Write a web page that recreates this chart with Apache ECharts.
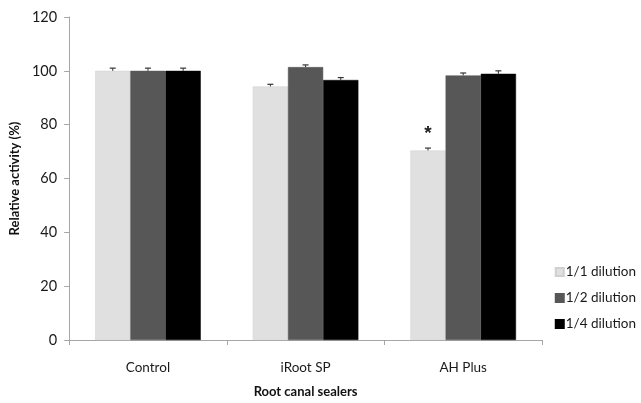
<!DOCTYPE html>
<html>
<head>
<meta charset="utf-8">
<script src="https://cdn.jsdelivr.net/npm/echarts@6/dist/echarts.min.js"></script>
<style>
  html, body { margin: 0; padding: 0; background: #fff; }
  #chart { width: 641px; height: 403px; }
</style>
</head>
<body>
<div id="chart"></div>
<script>
// categories and tick labels
const categories = ['Control', 'iRoot SP', 'AH Plus'];
const seriesNames = ['1/1 dilution', '1/2 dilution', '1/4 dilution'];
const seriesColors = ['#e0e0e0', '#575757', '#000000'];

// values (relative activity %)
const dilution11 = [100, 94.2, 70.4];
const dilution12 = [100, 101.4, 98.3];
const dilution14 = [100, 96.6, 98.9];

// error bars (upper part only is visible)
const err11 = [1.0, 0.8, 0.9];
const err12 = [1.0, 0.8, 0.9];
const err14 = [1.0, 0.9, 1.1];

// significance marks: [categoryIndex, seriesIndex, text]
const marks = [[2, 0, '*']];

const values = [dilution11, dilution12, dilution14];
const errors = [err11, err12, err14];

const CAT_GAP = 0.33;

const chart = echarts.init(document.getElementById('chart'));

// error bar data: [cat, value, err, seriesIndex]
const errData = [];
values.forEach((vals, s) => {
  vals.forEach((v, c) => errData.push([c, v, errors[s][c], s]));
});

const markData = marks.map(m => [m[0], values[m[1]][m[0]] + errors[m[1]][m[0]], m[1], m[2]]);

function barOffset(api, s) {
  const catW = api.size([1, 0])[0];
  const barW = catW * (1 - CAT_GAP) / 3;
  return { off: (s - 1) * barW, barW: barW };
}

const option = {
  animation: false,
  textStyle: { fontFamily: 'Lato, "Open Sans", sans-serif' },
  grid: { left: 68, right: 99, top: 17, bottom: 53 },
  legend: {
    orient: 'vertical',
    right: 0,
    top: 260,
    itemWidth: 8,
    itemHeight: 8,
    itemGap: 12,
    icon: 'rect',
    data: seriesNames,
    textStyle: { fontSize: 13.5, color: '#1a1a1a', padding: [0, 0, 0, -3] }
  },
  xAxis: {
    type: 'category',
    data: categories,
    name: 'Root canal sealers',
    nameLocation: 'middle',
    nameGap: 45,
    nameTextStyle: { fontSize: 13, fontWeight: 'bold', color: '#111' },
    axisLine: { lineStyle: { color: '#a6a6a6', width: 1 } },
    axisTick: { show: true, length: 5, lineStyle: { color: '#a6a6a6' } },
    axisLabel: { fontSize: 13.5, color: '#1a1a1a', margin: 21 }
  },
  yAxis: {
    type: 'value',
    min: 0,
    max: 120,
    interval: 20,
    name: 'Relative activity (%)',
    nameLocation: 'middle',
    nameGap: 45,
    nameTextStyle: { fontSize: 13, fontWeight: 'bold', color: '#111' },
    axisLine: { show: true, lineStyle: { color: '#a6a6a6', width: 1 } },
    axisTick: { show: true, length: 5, lineStyle: { color: '#a6a6a6' } },
    axisLabel: { fontSize: 14.5, color: '#1a1a1a', margin: 12 },
    splitLine: { show: false }
  },
  series: [
    ...seriesNames.map((name, s) => ({
      name: name,
      type: 'bar',
      data: values[s],
      barGap: '0%',
      barCategoryGap: (CAT_GAP * 100) + '%',
      itemStyle: { color: seriesColors[s], borderColor: s === 0 ? '#d0d0d0' : seriesColors[s], borderWidth: 0.5 }
    })),
    {
      type: 'custom',
      name: 'errors',
      data: errData,
      z: 5,
      renderItem: function (params, api) {
        const c = api.value(0), v = api.value(1), e = api.value(2), s = api.value(3);
        const o = barOffset(api, s);
        const top = api.coord([c, v + e]);
        const base = api.coord([c, v]);
        const x = top[0] + o.off;
        const cap = 3;
        return {
          type: 'group',
          children: [
            { type: 'line', shape: { x1: x, y1: base[1], x2: x, y2: top[1] }, style: { stroke: '#333', lineWidth: 1 } },
            { type: 'line', shape: { x1: x - cap, y1: top[1], x2: x + cap, y2: top[1] }, style: { stroke: '#333', lineWidth: 1.2 } }
          ]
        };
      }
    },
    {
      type: 'custom',
      name: 'marks',
      data: markData,
      z: 6,
      renderItem: function (params, api) {
        const c = api.value(0), v = api.value(1), s = api.value(2);
        const o = barOffset(api, s);
        const p = api.coord([c, v]);
        return {
          type: 'text',
          x: p[0] + o.off,
          y: p[1] - 5,
          style: { text: markData[params.dataIndex][3], fontSize: 19, fontWeight: 'bold', fill: '#222', align: 'center', verticalAlign: 'bottom' }
        };
      }
    }
  ]
};

chart.setOption(option);
</script>
</body>
</html>
